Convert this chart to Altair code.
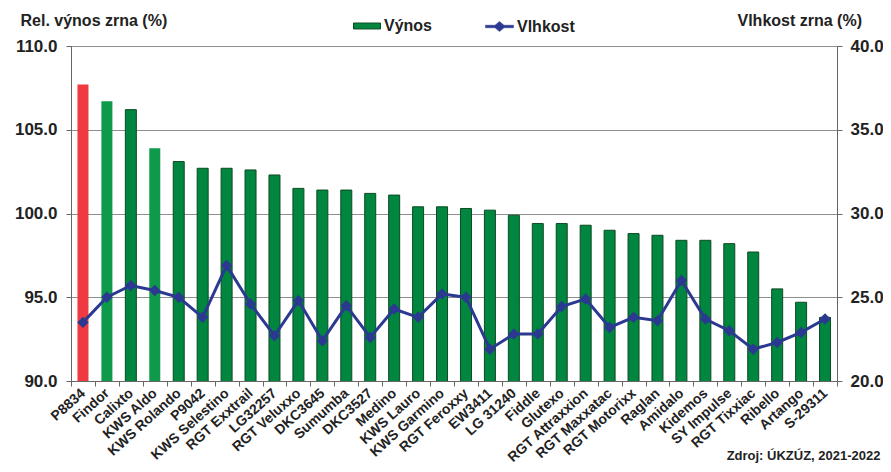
import altair as alt
import pandas as pd

# ---- data ----
hybrids = ["P8834", "Findor", "Calixto", "KWS Aldo", "KWS Rolando", "P9042",
           "KWS Selestino", "RGT Exxtrail", "LG32257", "RGT Veluxxo", "DKC3645",
           "Sumumba", "DKC3527", "Medino", "KWS Lauro", "KWS Garmino",
           "RGT Feroxxy", "EW3411", "LG 31240", "Fiddle", "Glutexo",
           "RGT Attraxxion", "RGT Maxxatac", "RGT Motorixx", "Raglan", "Amidalo",
           "Kidemos", "SY Impulse", "RGT Tixxiac", "Ribello", "Artango", "S-29311"]
rel_yield = [107.7, 106.7, 106.2, 103.9, 103.1, 102.7,
             102.7, 102.6, 102.3, 101.5, 101.4,
             101.4, 101.2, 101.1, 100.4, 100.4,
             100.3, 100.2, 99.9, 99.4, 99.4,
             99.3, 99.0, 98.8, 98.7, 98.4,
             98.4, 98.2, 97.7, 95.5, 94.7, 93.8]
moisture = [23.5, 25.0, 25.7, 25.4, 25.0, 23.8,
            26.9, 24.6, 22.7, 24.8, 22.4,
            24.5, 22.6, 24.3, 23.8, 25.2,
            25.0, 21.9, 22.8, 22.8, 24.45,
            24.9, 23.2, 23.8, 23.6, 26.0,
            23.7, 23.0, 21.9, 22.3, 22.9, 23.7]
left_ticks = [90, 95, 100, 105, 110]
right_ticks = [20, 25, 30, 35, 40]
ref_hybrid = "P8834"
control_hybrids = ["Findor", "KWS Aldo"]

groups = ["ref" if h == ref_hybrid else ("kontrola" if h in control_hybrids else "Výnos")
          for h in hybrids]
df = pd.DataFrame({"hybrid": hybrids, "vynos": rel_yield, "vlhkost": moisture,
                   "skupina": groups, "serie": ["Vlhkost"] * len(hybrids)})

FONT = "Liberation Sans"
TXT = "#222222"
GREEN = "#00863f"
NAVY = "#2b3990"

x_enc = alt.X(
    "hybrid:N", sort=hybrids,
    scale=alt.Scale(paddingInner=0, paddingOuter=0),
    axis=alt.Axis(
        title="Zdroj: ÚKZÚZ, 2021-2022", titleX=809, titleY=74, titleAlign="right",
        titleBaseline="middle", titleAngle=0, titleFont=FONT, titleFontSize=13,
        titleFontWeight="bold", titleColor=TXT,
        labelAngle=318, labelAlign="right", labelBaseline="middle", labelPadding=5,
        labelFont=FONT, labelFontSize=14, labelFontWeight="bold", labelColor=TXT,
        labelOverlap=False, tickBand="extent", tickSize=5, tickColor="#666666",
        domainColor="#666666", grid=False),
)

bars = alt.Chart(df).mark_bar(size=11, strokeWidth=1, clip=True).encode(
    x=x_enc,
    y=alt.Y("vynos:Q",
            scale=alt.Scale(domain=[90, 110], zero=False, nice=False),
            axis=alt.Axis(
                title="Rel. výnos zrna (%)", titleAngle=0, titleX=-51, titleY=-26,
                titleAlign="left", titleBaseline="middle", titleFont=FONT,
                titleFontSize=16, titleFontWeight="bold", titleColor=TXT,
                values=left_ticks, format=".1f", labelFont=FONT, labelFontSize=17,
                labelFontWeight="bold", labelColor=TXT, labelPadding=9,
                tickSize=5, tickColor="#666666", domainColor="#666666",
                grid=True, gridColor="#8f8f8f", gridWidth=1)),
    fill=alt.Fill("skupina:N",
                  scale=alt.Scale(domain=["Výnos", "kontrola", "ref"],
                                  range=[GREEN, "#0f9a4b", "#ee3a40"]),
                  legend=alt.Legend(
                      values=["Výnos"], title=None, orient="none", legendX=282,
                      legendY=-34, direction="horizontal", padding=0,
                      symbolType="M-1,-0.22H1V0.22H-1Z", symbolSize=729,
                      symbolStrokeColor="#0c4a22", symbolStrokeWidth=1,
                      symbolOffset=0, labelOffset=3, labelFont=FONT,
                      labelFontSize=16, labelFontWeight="bold", labelColor=TXT)),
    stroke=alt.condition("datum.skupina == 'Výnos'", alt.value("#0c4a22"),
                         alt.value("transparent")),
)

line = alt.Chart(df).mark_line(
    strokeWidth=3,
    point=alt.OverlayMarkDef(shape="diamond", filled=True, size=75, fill=NAVY),
).encode(
    x=alt.X("hybrid:N", sort=hybrids),
    y=alt.Y("vlhkost:Q",
            scale=alt.Scale(domain=[20, 40], zero=False, nice=False),
            axis=alt.Axis(
                orient="right", title="Vlhkost zrna (%)", titleAngle=0,
                titleX=-100, titleY=-26, titleAlign="left", titleBaseline="middle",
                titleFont=FONT, titleFontSize=16, titleFontWeight="bold",
                titleColor=TXT, values=right_ticks, format=".1f", labelFont=FONT,
                labelFontSize=17, labelFontWeight="bold", labelColor=TXT,
                labelPadding=8, tickSize=5, tickColor="#666666",
                domainColor="#666666", grid=False)),
    stroke=alt.Stroke("serie:N",
                      scale=alt.Scale(domain=["Vlhkost"], range=[NAVY]),
                      legend=alt.Legend(
                          title=None, orient="none", legendX=414, legendY=-34,
                          direction="horizontal", padding=0,
                          symbolType="M-1,-0.09H-0.32L0,-0.36L0.32,-0.09H1V0.09H0.32L0,0.36L-0.32,0.09H-1Z",
                          symbolSize=784, symbolFillColor=NAVY,
                          symbolStrokeColor=NAVY, symbolStrokeWidth=0.5,
                          symbolOffset=0, labelOffset=3, labelFont=FONT,
                          labelFontSize=16, labelFontWeight="bold",
                          labelColor=TXT)),
)

chart = alt.layer(bars, line).resolve_scale(
    y="independent", fill="independent", stroke="independent"
).properties(
    width=766, height=335,
    autosize=alt.AutoSizeParams(type="none"),
    padding={"left": 63, "top": 38, "right": 46, "bottom": 83},
).configure_view(stroke="#8f8f8f", strokeWidth=1)

chart.save("out.html", embed_options={"renderer": "svg", "actions": False})
